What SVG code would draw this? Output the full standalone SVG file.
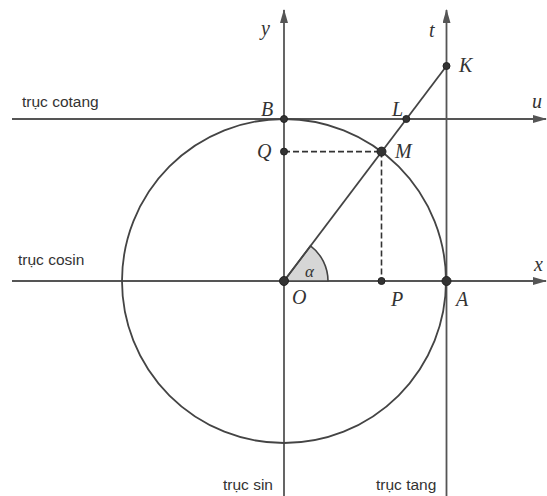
<svg xmlns="http://www.w3.org/2000/svg" width="547" height="496" viewBox="0 0 547 496">
<defs>
<style>
.ax{stroke:#555;stroke-width:1.8;fill:none}
.circ{stroke:#444;stroke-width:1.8;fill:none}
.dash{stroke:#333;stroke-width:1.6;stroke-dasharray:6 3;fill:none}
.pt{fill:#333;stroke:#222;stroke-width:1}
.lbl{font-family:"Liberation Serif","DejaVu Serif",serif;font-style:italic;font-size:20px;fill:#333}
.txt{font-family:"Liberation Sans",Arial,sans-serif;font-size:15.5px;fill:#333}
</style>
<marker id="arr" viewBox="0 0 14 8" refX="13" refY="4" markerWidth="14" markerHeight="8" markerUnits="userSpaceOnUse" orient="auto">
<path d="M0,0 L14,4 L0,8 Z" fill="#555"/>
</marker>
</defs>
<rect width="547" height="496" fill="#fff"/>
<g id="connectors">
<line class="ax" x1="12" y1="281" x2="546" y2="281" marker-end="url(#arr)"/>
<line class="ax" x1="12" y1="119" x2="546" y2="119" marker-end="url(#arr)"/>
<line class="ax" x1="284" y1="496" x2="284" y2="10" marker-end="url(#arr)"/>
<line class="ax" x1="446.5" y1="496" x2="446.5" y2="10" marker-end="url(#arr)"/>
<circle class="circ" cx="284" cy="281" r="162"/>
<path d="M284,281 L328,281 A44,44 0 0 0 310.5,245.9 Z" fill="#d6d6d6" stroke="#444" stroke-width="1.6"/>
<line class="ax" x1="284" y1="281" x2="446.5" y2="66" style="stroke:#444"/>
<line class="dash" x1="284" y1="151.6" x2="381.5" y2="151.6"/>
<line class="dash" x1="381.5" y1="151.6" x2="381.5" y2="281"/>
</g>
<g id="O"><circle class="pt" cx="284" cy="281" r="4.5"/><text class="lbl" x="292" y="304">O</text></g>
<g id="A"><circle class="pt" cx="446.5" cy="281" r="4.5"/><text class="lbl" x="456" y="306">A</text></g>
<g id="M"><circle class="pt" cx="381.5" cy="151.6" r="4.5"/><text class="lbl" x="395" y="158">M</text></g>
<g id="P"><circle class="pt" cx="381.5" cy="281" r="3.5"/><text class="lbl" x="391" y="306">P</text></g>
<g id="Q"><circle class="pt" cx="284" cy="151.6" r="3.5"/><text class="lbl" x="257" y="158">Q</text></g>
<g id="B"><circle class="pt" cx="284" cy="119" r="3.5"/><text class="lbl" x="261" y="116">B</text></g>
<g id="L"><circle class="pt" cx="406.3" cy="119" r="3.5"/><text class="lbl" x="392" y="116">L</text></g>
<g id="K"><circle class="pt" cx="446.5" cy="66" r="3.5"/><text class="lbl" x="459" y="72">K</text></g>
<g id="alpha"><text class="lbl" x="305" y="277" style="font-size:17px">α</text></g>
<g id="axis-labels">
<text class="lbl" x="261" y="35">y</text>
<text class="lbl" x="429" y="37">t</text>
<text class="lbl" x="532" y="108">u</text>
<text class="lbl" x="534" y="271">x</text>
</g>
<g id="axis-names">
<text class="txt" x="22" y="107">trục cotang</text>
<text class="txt" x="18" y="265">trục cosin</text>
<text class="txt" x="223" y="490">trục sin</text>
<text class="txt" x="376" y="490">trục tang</text>
</g>
</svg>
